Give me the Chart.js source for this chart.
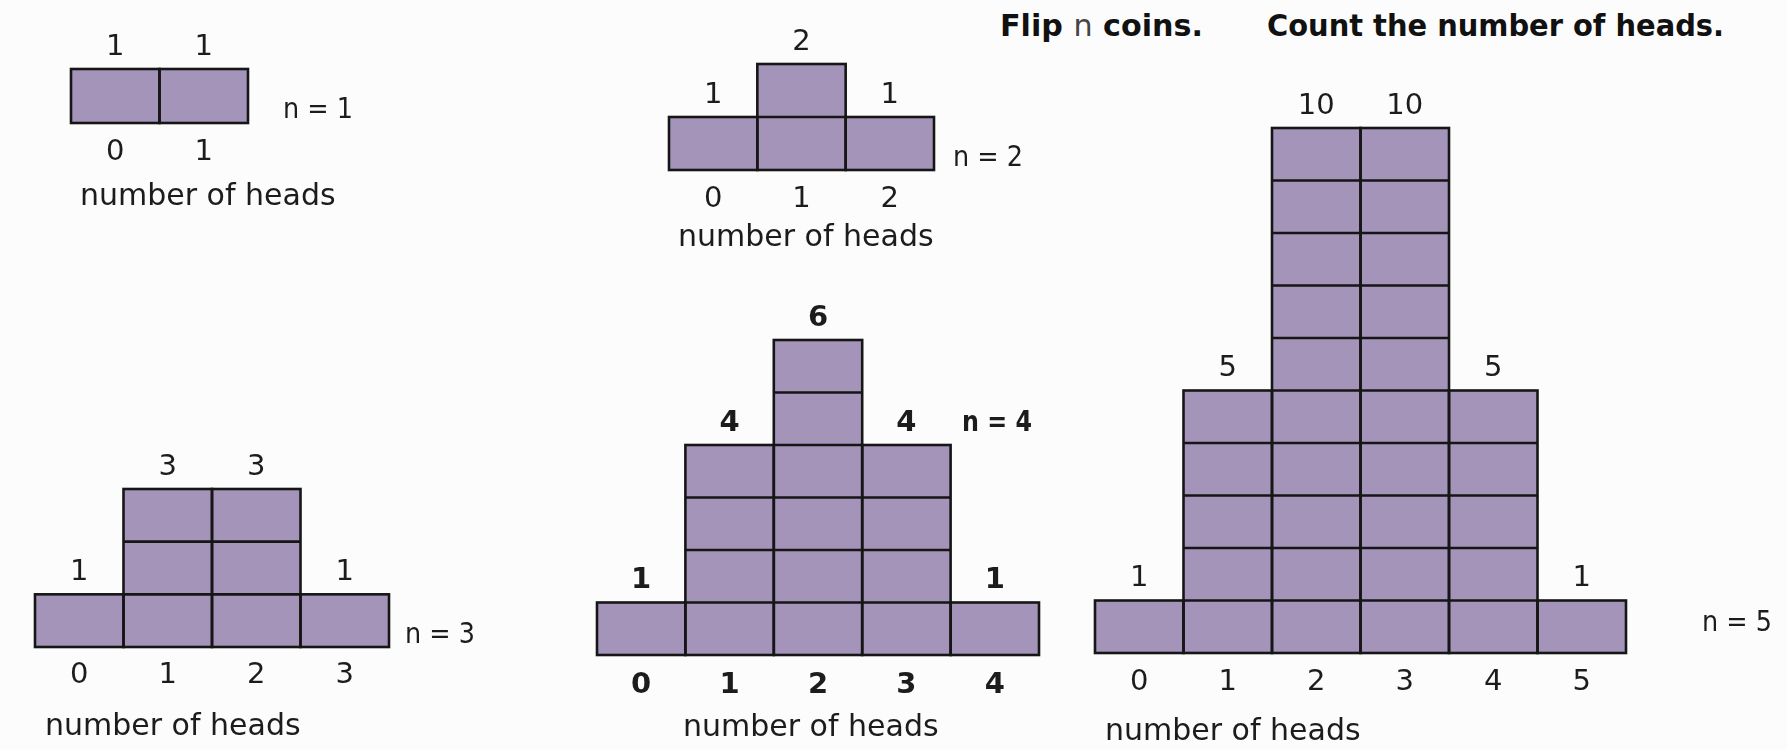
<!DOCTYPE html>
<html lang="en">
<head>
  <meta charset="UTF-8">
  <title>Flip n coins. Count the number of heads.</title>
  <script src="https://cdn.jsdelivr.net/npm/chart.js"></script>
  <style>
    html, body {
      margin: 0;
      padding: 0;
    }
    body {
      width: 1787px;
      height: 750px;
      background: #fcfcfc;
      overflow: hidden;
      position: relative;
      font-family: "DejaVu Sans", Verdana, sans-serif;
    }
    canvas {
      position: absolute;
    }
    .title {
      position: absolute;
      top: 10px;
      font-size: 31px;
      line-height: 31px;
      font-weight: bold;
      white-space: nowrap;
      transform-origin: 0 0;
      color: #111;
    }
  </style>
</head>
<body>

<div class="title" data-w="203" style="left:1000px">Flip <span style="font-weight:normal;color:#444">n</span> coins.</div>
<div class="title" data-w="457" style="left:1267px">Count the number of heads.</div>

<canvas id="chartN1"></canvas>
<canvas id="chartN2"></canvas>
<canvas id="chartN3"></canvas>
<canvas id="chartN4"></canvas>
<canvas id="chartN5"></canvas>

<script>
  // number of heads (categories) and counts for each n
  const heads = ['0', '1', '2', '3', '4', '5'];
  const countsN1 = [1, 1];
  const countsN2 = [1, 2, 1];
  const countsN3 = [1, 3, 3, 1];
  const countsN4 = [1, 4, 6, 4, 1];
  const countsN5 = [1, 5, 10, 10, 5, 1];

  const barColor = '#a494ba';
  const lineColor = '#161616';
  const textColor = '#1c1c1c';

  // squeeze the heading text to the width it has in the picture
  document.querySelectorAll('.title').forEach(el => {
    const w = el.getBoundingClientRect().width;
    el.style.transform = 'scaleX(' + (Number(el.dataset.w) / w) + ')';
  });

  // outlines every bar, splits it in unit cells, writes the labels
  const cellPlugin = {
    id: 'cells',
    afterDatasetsDraw(chart, args, opts) {
      const ctx = chart.ctx;
      const yScale = chart.scales.y;
      const area = chart.chartArea;
      const meta = chart.getDatasetMeta(0);
      const counts = chart.data.datasets[0].data;

      ctx.save();
      ctx.strokeStyle = lineColor;
      ctx.lineWidth = 2.6;
      meta.data.forEach((bar, i) => {
        const p = bar.getProps(['x', 'y', 'base', 'width'], true);
        const x0 = p.x - p.width / 2;
        const x1 = p.x + p.width / 2;
        ctx.strokeRect(x0, p.y, p.width, p.base - p.y);
        for (let k = 1; k < counts[i]; k++) {
          const yy = yScale.getPixelForValue(k);
          ctx.beginPath();
          ctx.moveTo(x0, yy);
          ctx.lineTo(x1, yy);
          ctx.stroke();
        }
      });

      const weight = opts.bold ? 'bold ' : '';
      ctx.fillStyle = textColor;
      ctx.textAlign = 'center';
      ctx.textBaseline = 'middle';
      ctx.font = weight + '29px "DejaVu Sans"';
      meta.data.forEach((bar, i) => {
        ctx.fillText(String(counts[i]), bar.x, bar.y - 22);
        ctx.fillText(chart.data.labels[i], bar.x, area.bottom + opts.tickDy);
      });

      ctx.textAlign = 'left';
      ctx.font = weight + '29px "DejaVu Sans"';
      ctx.fillText('n = ' + opts.n, area.right + opts.nDx, area.bottom + opts.nDy, 70);

      ctx.font = '30px "DejaVu Sans"';
      ctx.fillText('number of heads', area.left + opts.axisDx, area.bottom + opts.axisDy);
      ctx.restore();
    }
  };

  function makeChart(id, n, counts, lay) {
    const canvas = document.getElementById(id);
    const pad = { left: 40, top: 60, right: 170, bottom: 100 };
    const [l, t, r, b] = lay.area;
    canvas.width = r - l + pad.left + pad.right;
    canvas.height = b - t + pad.top + pad.bottom;
    canvas.style.left = (l - pad.left) + 'px';
    canvas.style.top = (t - pad.top) + 'px';

    return new Chart(canvas, {
      type: 'bar',
      data: {
        labels: heads.slice(0, n + 1),
        datasets: [{
          data: counts,
          backgroundColor: barColor,
          borderWidth: 0,
          categoryPercentage: 1,
          barPercentage: 1,
          clip: false
        }]
      },
      options: {
        responsive: false,
        animation: false,
        events: [],
        layout: { padding: pad },
        plugins: {
          legend: { display: false },
          tooltip: { enabled: false },
          cells: Object.assign({ n: n }, lay)
        },
        scales: {
          x: { display: false },
          y: { display: false, min: 0, max: Math.max(...counts) }
        }
      },
      plugins: [cellPlugin]
    });
  }

  makeChart('chartN1', 1, countsN1, { area: [71, 69, 248, 123], tickDy: 29, axisDx: 9, axisDy: 74, nDx: 35, nDy: -13 });
  makeChart('chartN2', 2, countsN2, { area: [669, 64, 934, 170], tickDy: 29, axisDx: 9, axisDy: 68, nDx: 19, nDy: -12 });
  makeChart('chartN3', 3, countsN3, { area: [35, 489, 389, 647], tickDy: 28, axisDx: 10, axisDy: 80, nDx: 16, nDy: -12 });
  makeChart('chartN4', 4, countsN4, { area: [597, 340, 1039, 655], tickDy: 30, axisDx: 86, axisDy: 73, nDx: -77, nDy: -232, bold: true });
  makeChart('chartN5', 5, countsN5, { area: [1095, 128, 1626, 653], tickDy: 29, axisDx: 10, axisDy: 79, nDx: 76, nDy: -30 });
</script>

</body>
</html>
